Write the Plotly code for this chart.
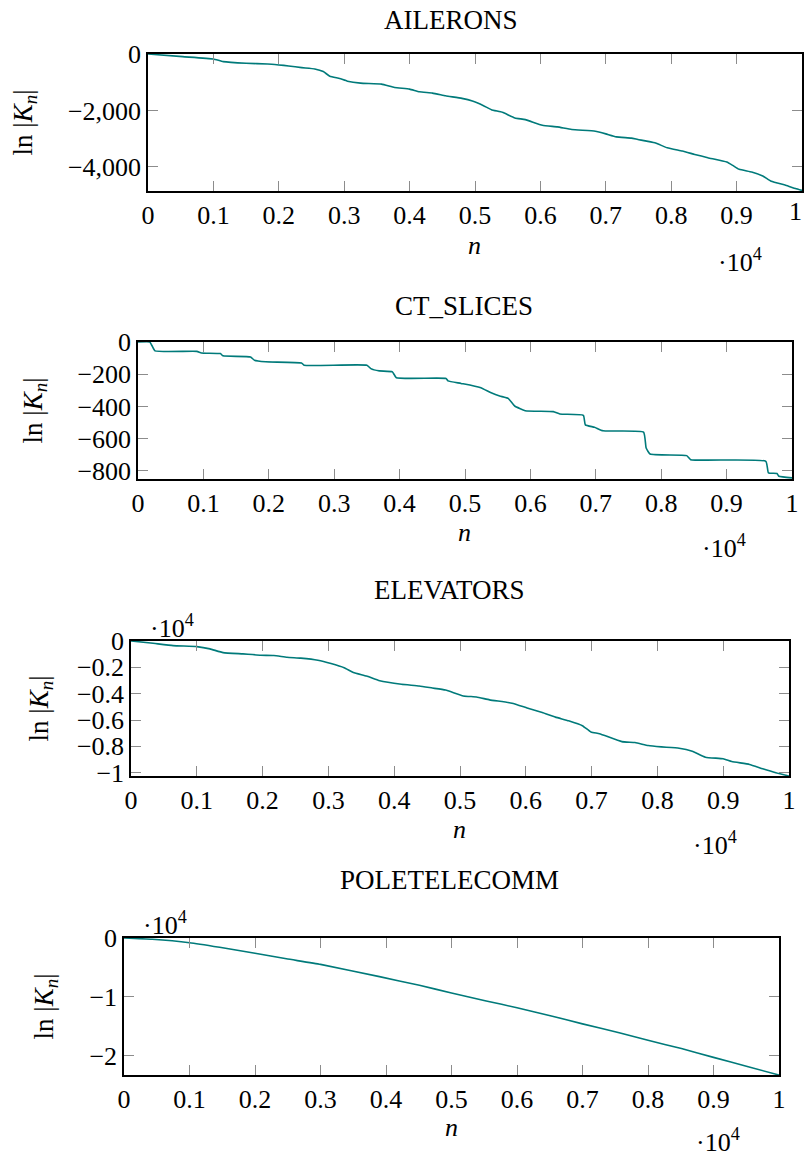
import plotly.graph_objects as go

W, H = 804, 1158

# ---------------- data ----------------
ail_n = [0, 530, 1000, 1150, 1500, 1830, 2000, 2150, 2350, 2550, 2680, 2780, 2930, 3050,
         3250, 3570, 3770, 4000, 4150, 4350, 4550, 4800, 4960, 5130, 5250, 5420, 5610,
         5770, 6030, 6260, 6480, 6840, 7000, 7160, 7390, 7490, 7750, 7940, 8170, 8360,
         8560, 8850, 8940, 9040, 9230, 9400, 9530, 9750, 9900, 10000]
ail_y = [0, -94, -176, -270, -328, -352, -387, -422, -481, -528, -622, -786, -868, -962,
         -1032, -1067, -1185, -1243, -1337, -1384, -1478, -1572, -1666, -1830, -1971, -2065,
         -2264, -2323, -2522, -2581, -2674, -2733, -2827, -2933, -2979, -3026, -3144, -3320,
         -3437, -3555, -3672, -3825, -3942, -4083, -4177, -4317, -4505, -4645, -4763, -4830]

ct_n = [0, 180, 210, 260, 900, 970, 1260, 1300, 1720, 1780, 1950, 2500, 2540, 3500, 3560,
        3690, 3890, 3950, 4710, 4740, 4940, 5230, 5400, 5530, 5660, 5760, 5920, 6350, 6450,
        6810, 6840, 6980, 7110, 7730, 7770, 7830, 8390, 8450, 9600, 9640, 9770, 9800, 10000]
ct_y = [0, 0, -20, -55, -58, -68, -72, -86, -93, -113, -123, -130, -144, -144, -165,
        -179, -185, -222, -226, -241, -257, -282, -315, -335, -350, -397, -426, -432, -447,
        -455, -514, -529, -551, -559, -658, -695, -705, -730, -740, -812, -816, -833, -843]

el_n = [0, 300, 640, 1000, 1200, 1400, 1700, 1970, 2170, 2370, 2580, 2840, 3040, 3240, 3380,
        3580, 3780, 4110, 4380, 4580, 4780, 5050, 5250, 5450, 5790, 6020, 6250, 6450, 6650,
        6860, 6990, 7120, 7460, 7660, 7860, 8060, 8330, 8530, 8730, 9000, 9130, 9400, 9600,
        9800, 10000]
el_y = [0, -150, -350, -430, -600, -880, -980, -1080, -1100, -1230, -1300, -1460, -1710,
        -2030, -2390, -2660, -3020, -3290, -3420, -3570, -3720, -4170, -4250, -4470, -4720,
        -5080, -5430, -5780, -6060, -6430, -6910, -7040, -7640, -7710, -7940, -8040, -8140,
        -8370, -8820, -8940, -9150, -9370, -9700, -10000, -10250]

pt_n = [0, 430, 1000, 1460, 2000, 2480, 3000, 3900, 4510, 5000, 5530, 6000, 6540,
        7000, 7560, 8000, 8510, 9000, 9530, 10000]
pt_y = [0, -220, -800, -1570, -2580, -3540, -4490, -6570, -8050, -9350, -10700,
        -11870, -13300, -14600, -16100, -17400, -18800, -20300, -21900, -23300]

titles = ["AILERONS", "CT_SLICES", "ELEVATORS", "POLETELECOMM"]

x_tickvals = [0, 1000, 2000, 3000, 4000, 5000, 6000, 7000, 8000, 9000, 10000]
x_ticktext = ["0", "0.1", "0.2", "0.3", "0.4", "0.5", "0.6", "0.7", "0.8", "0.9", "1"]

ail_tickvals = [0, -2000, -4000]
ail_ticktext = ["0", "\u22122,000", "\u22124,000"]
ct_tickvals = [0, -200, -400, -600, -800]
ct_ticktext = ["0", "\u2212200", "\u2212400", "\u2212600", "\u2212800"]
el_tickvals = [0, -2000, -4000, -6000, -8000, -10000]
el_ticktext = ["0", "\u22120.2", "\u22120.4", "\u22120.6", "\u22120.8", "\u22121"]
pt_tickvals = [0, -10000, -20000]
pt_ticktext = ["0", "\u22121", "\u22122"]

series = [
    (ail_n, ail_y, ail_tickvals, ail_ticktext, [-4850, 0]),
    (ct_n, ct_y, ct_tickvals, ct_ticktext, [-850, 0]),
    (el_n, el_y, el_tickvals, el_ticktext, [-10250, 0]),
    (pt_n, pt_y, pt_tickvals, pt_ticktext, [-23300, 0]),
]

# ---------------- layout (pixel boxes) ----------------
boxes = [  # left, right, top, bottom in px
    (148, 802, 54, 191),
    (138, 792, 342, 479),
    (131, 789, 641, 776),
    (124, 779, 938, 1075),
]
title_pos = [(451, 20), (464, 306), (450, 590), (450, 880)]
xlab_y = [246, 532, 829, 1127]
xexp_pos = [(740, 260), (724, 546), (715, 843), (718, 1140)]
ylab_x = [25, 34, 40, 45]
yexp_pos = [None, None, (172, 626), (165, 924)]

FONT = "Liberation Serif, Times New Roman, serif"
TEAL = "#007a7a"

fig = go.Figure()
annotations = []
for i, ((xs, ys, tv, tt, yr), (l, r, t, b)) in enumerate(zip(series, boxes)):
    k = "" if i == 0 else str(i + 1)
    fig.add_trace(go.Scatter(x=xs, y=ys, mode="lines",
                             line=dict(color=TEAL, width=1.6, shape="spline", smoothing=0.4),
                             xaxis="x" + k, yaxis="y" + k, showlegend=False,
                             hoverinfo="skip"))
    axcommon = dict(showline=True, linecolor="black", linewidth=1.5, mirror="ticks",
                    ticks="inside", ticklen=10, tickwidth=1.2, tickcolor="#8c8c8c",
                    showgrid=False, zeroline=False, automargin=False,
                    ticklabeloverflow="allow",
                    tickfont=dict(family=FONT, size=26, color="black"))
    xtt = list(x_ticktext)
    if i == 0:
        # last label sits at the page edge: draw it as a right-aligned annotation
        xtt[-1] = ""
        annotations.append(dict(text=x_ticktext[-1], x=1.0, y=1 - 211 / H,
                                xref="paper", yref="paper", showarrow=False,
                                font=dict(family=FONT, size=26, color="black"),
                                xanchor="right", yanchor="middle"))
    fig.layout["xaxis" + k] = dict(domain=[l / W, r / W], range=[0, 10000],
                                   anchor="y" + k, tickvals=x_tickvals,
                                   ticktext=xtt, **axcommon)
    fig.layout["yaxis" + k] = dict(domain=[1 - b / H, 1 - t / H], range=yr,
                                   anchor="x" + k, tickvals=tv, ticktext=tt, **axcommon)
    cx = (l + r) / 2
    cy = (t + b) / 2
    tx, ty = title_pos[i]
    annotations.append(dict(text=titles[i], x=tx / W, y=1 - ty / H,
                            xref="paper", yref="paper", showarrow=False,
                            font=dict(family=FONT, size=27, color="black"),
                            xanchor="center", yanchor="middle"))
    annotations.append(dict(text="<i>n</i>", x=cx / W, y=1 - xlab_y[i] / H,
                            xref="paper", yref="paper", showarrow=False,
                            font=dict(family=FONT, size=26, color="black"),
                            xanchor="center", yanchor="middle"))
    ex, ey = xexp_pos[i]
    annotations.append(dict(text="\u00b710<sup>4</sup>", x=ex / W, y=1 - ey / H,
                            xref="paper", yref="paper", showarrow=False,
                            font=dict(family=FONT, size=26, color="black"),
                            xanchor="center", yanchor="middle"))
    annotations.append(dict(text="ln |<i>K<sub>n</sub></i>|", x=ylab_x[i] / W, y=1 - cy / H,
                            xref="paper", yref="paper", showarrow=False, textangle=-90,
                            font=dict(family=FONT, size=27, color="black"),
                            xanchor="center", yanchor="middle"))
    if yexp_pos[i] is not None:
        yx, yy = yexp_pos[i]
        annotations.append(dict(text="\u00b710<sup>4</sup>", x=yx / W, y=1 - yy / H,
                                xref="paper", yref="paper", showarrow=False,
                                font=dict(family=FONT, size=26, color="black"),
                                xanchor="center", yanchor="middle"))

fig.update_layout(template="none", width=W, height=H,
                  margin=dict(l=0, r=0, t=0, b=0, autoexpand=False),
                  paper_bgcolor="white", plot_bgcolor="white",
                  annotations=annotations)

fig.write_html("out.html")
